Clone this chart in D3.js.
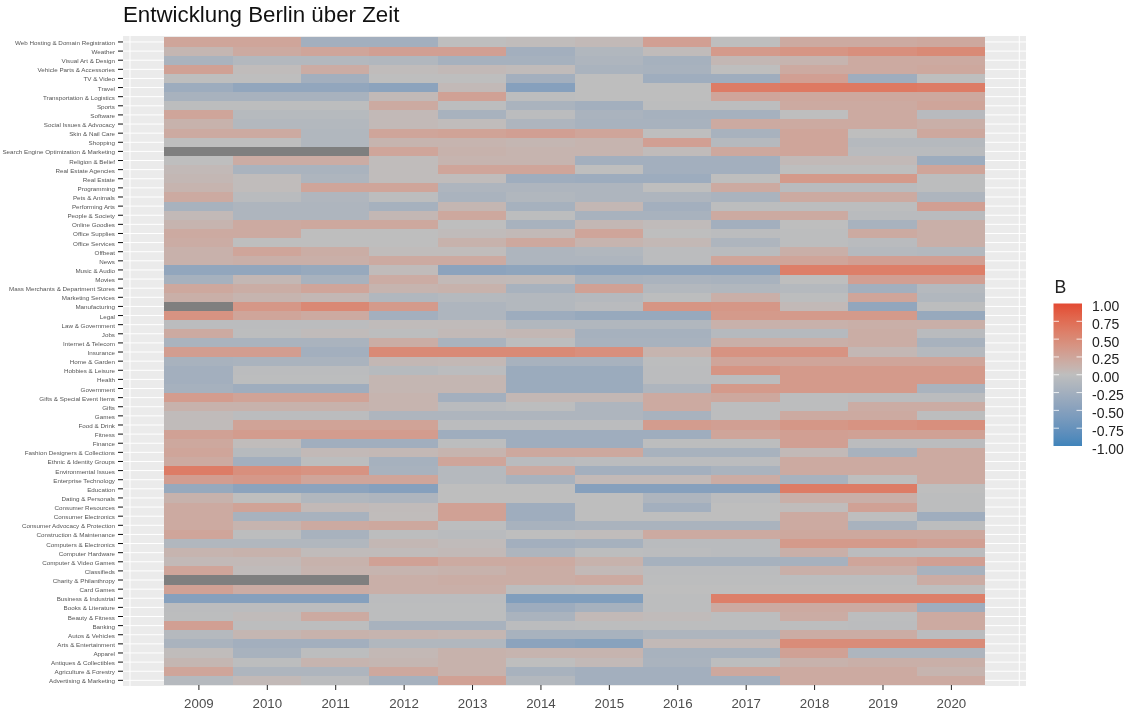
<!DOCTYPE html>
<html><head><meta charset="utf-8">
<script src="https://cdn.jsdelivr.net/npm/d3@7"></script>
<style>html,body{margin:0;padding:0;background:#fff}svg{display:block;font-family:"Liberation Sans",Arial,sans-serif;filter:blur(0.4px)}</style>
</head><body><svg id="c" width="1131" height="714"></svg>
<script>
const years=[2009,2010,2011,2012,2013,2014,2015,2016,2017,2018,2019,2020];
const categories=["Web Hosting & Domain Registration","Weather","Visual Art & Design","Vehicle Parts & Accessories","TV & Video","Travel","Transportation & Logistics","Sports","Software","Social Issues & Advocacy","Skin & Nail Care","Shopping","Search Engine Optimization & Marketing","Religion & Belief","Real Estate Agencies","Real Estate","Programming","Pets & Animals","Performing Arts","People & Society","Online Goodies","Office Supplies","Office Services","Offbeat","News","Music & Audio","Movies","Mass Merchants & Department Stores","Marketing Services","Manufacturing","Legal","Law & Government","Jobs","Internet & Telecom","Insurance","Home & Garden","Hobbies & Leisure","Health","Government","Gifts & Special Event Items","Gifts","Games","Food & Drink","Fitness","Finance","Fashion Designers & Collections","Ethnic & Identity Groups","Environmental Issues","Enterprise Technology","Education","Dating & Personals","Consumer Resources","Consumer Electronics","Consumer Advocacy & Protection","Construction & Maintenance","Computers & Electronics","Computer Hardware","Computer & Video Games","Classifieds","Charity & Philanthropy","Card Games","Business & Industrial","Books & Literature","Beauty & Fitness","Banking","Autos & Vehicles","Arts & Entertainment","Apparel","Antiques & Collectibles","Agriculture & Forestry","Advertising & Marketing"];
const values=[
[.25,.25,-.25,-.25,0,.02,.05,.3,0,.2,.2,.22],
[.08,.2,.25,.3,.3,-.25,-.12,.03,.35,.4,.45,.5],
[-.18,-.1,-.1,-.12,-.22,-.22,-.15,-.22,.07,.1,.2,.2],
[.28,.02,.18,.02,.05,.03,-.18,-.2,0,.2,.2,.22],
[0,0,-.25,0,0,-.25,0,-.28,-.28,.3,-.28,0],
[-.3,-.4,-.4,-.45,.05,-.5,0,0,.62,.65,.65,.62],
[-.2,-.2,-.2,.05,.28,-.02,0,0,.25,.22,.22,.22],
[-.02,-.02,-.02,.2,-.02,-.18,-.25,-.02,-.02,.2,.2,.25],
[.25,-.07,-.07,.05,-.2,-.03,-.18,-.22,-.22,0,.2,-.06],
[.12,-.1,-.1,.05,.02,-.15,-.2,-.2,.2,.2,.2,.15],
[.2,.2,-.12,.25,.27,.3,.25,0,-.2,.25,0,.22],
[0,0,-.12,.1,.1,.08,.1,.3,-.08,.25,-.08,-.08],
[null,null,null,.25,.12,.1,.1,.03,.22,.25,-.05,-.05],
[0,.18,.18,.02,.1,.1,-.25,-.25,-.25,.05,.05,-.3],
[.05,-.18,-.18,.02,.25,.25,0,-.25,-.25,0,0,.25],
[.07,.02,-.15,.02,.02,-.28,-.3,-.3,0,.35,.35,-.02],
[.1,.02,.25,.25,-.15,-.15,-.15,0,.2,-.05,-.05,-.02],
[.2,-.05,-.13,-.02,-.18,-.12,-.15,-.15,-.18,.2,.2,-.15],
[-.2,-.15,-.15,-.22,.08,-.22,.07,-.25,-.02,-.02,-.02,.3],
[.05,-.15,-.15,.07,.22,-.02,-.2,-.2,.2,.2,-.05,-.05],
[.1,.2,.22,.22,0,-.2,.07,.03,-.25,0,-.2,.15],
[.2,.2,0,0,.03,.05,.25,0,-.03,-.02,.2,.15],
[.18,0,0,0,.12,.22,.1,.06,-.15,-.02,-.05,.15],
[.13,.25,.17,.02,.02,-.15,-.12,-.03,-.05,.15,-.08,-.1],
[.13,.15,.15,.2,.2,-.15,-.15,-.03,.25,.25,.3,.3],
[-.4,-.4,-.35,.03,-.45,-.42,-.45,-.45,-.45,.6,.6,.6],
[-.22,.07,-.2,.18,.05,.04,-.2,-.18,-.2,0,.3,.3],
[.22,.17,.25,.1,.12,-.2,.28,-.1,-.12,-.08,-.25,-.08],
[.15,.1,.07,-.12,-.08,-.1,-.08,-.02,.15,-.02,.25,-.12],
[null,.38,.52,.35,-.15,-.1,-.05,.4,.38,.05,-.4,-.02],
[.42,.25,.2,-.25,-.15,-.3,-.35,-.35,.35,.35,.35,-.35],
[-.03,-.03,-.03,.03,.03,-.12,-.12,-.12,.13,.13,.15,.15],
[.2,-.02,.03,-.02,.05,.07,-.22,-.22,-.08,-.08,.17,-.05],
[-.18,-.18,-.18,.17,-.18,-.02,-.2,-.2,.15,.15,.17,-.2],
[.32,.32,-.25,.5,.5,.5,.45,.1,.42,.42,.07,-.08],
[-.2,-.18,-.18,.07,.06,-.2,-.2,-.02,.25,.25,.25,.25],
[-.25,-.03,-.03,-.07,-.03,-.32,-.32,-.03,.4,.35,.35,.35],
[-.25,-.02,-.02,.08,.08,-.32,-.32,-.03,-.03,.35,.35,.35],
[-.22,-.28,-.28,.08,.08,-.32,-.32,-.15,.35,.35,.35,-.18],
[.33,.27,.27,.1,-.25,.07,.07,.2,.22,-.02,-.03,-.03],
[.12,.12,.12,.1,-.05,-.02,-.15,.2,-.02,-.02,.18,.18],
[.03,-.03,-.03,-.15,-.15,-.15,-.15,-.2,-.02,.2,.2,-.02],
[.03,.27,.27,.27,-.03,-.03,-.03,.33,.3,.38,.42,.45],
[.28,.33,.33,.33,-.28,-.28,-.28,-.28,.25,.3,.28,.28],
[.22,.02,-.27,-.27,-.02,-.28,-.28,-.02,-.02,.3,-.03,-.03],
[.25,-.07,.05,.06,.1,.22,.22,-.2,-.2,.05,-.2,.2],
[.2,-.25,-.02,-.22,.25,-.05,-.03,-.03,-.03,.2,.2,.2],
[.62,.45,.42,-.2,-.08,.2,-.25,-.25,-.18,.2,.2,.2],
[.32,.37,.25,.25,-.08,-.2,.05,.05,.18,-.2,0,.2],
[-.35,-.45,-.45,-.5,0,0,-.5,-.5,-.5,.62,.62,0],
[.12,0,-.12,-.15,0,0,0,-.15,-.03,.15,.15,-.02],
[.2,.27,.05,.03,.28,-.28,0,-.25,0,.02,.28,-.02],
[.2,-.2,-.2,.02,.28,-.28,0,0,0,.2,0,-.28],
[.2,.1,.2,.22,-.02,-.2,-.18,-.18,-.18,.2,-.2,-.02],
[.25,-.02,-.2,-.02,-.05,0,.02,.2,.2,.22,.22,.22],
[-.12,-.12,-.12,.07,.03,-.25,-.22,-.05,-.05,.35,.35,.3],
[.1,.12,.03,.03,.05,-.15,-.02,-.03,-.05,.15,-.03,-.03],
[.05,.05,.12,.28,.2,.2,.12,-.22,-.22,-.22,.25,.3],
[.25,.03,.1,.1,.12,.17,.05,-.03,-.03,.15,.15,-.2],
[null,null,null,.15,.17,.17,.2,-.02,-.02,-.02,-.02,.18],
[.28,.18,.18,.15,.15,-.02,0,0,0,0,0,0],
[-.5,-.5,-.5,-.03,-.03,-.55,-.55,-.02,.6,.6,.6,.6],
[-.03,-.03,-.03,-.02,-.02,-.3,-.22,-.02,.2,.2,.2,-.28],
[-.02,.03,.2,-.02,-.02,-.18,.05,.03,-.02,.18,-.02,.2],
[.3,-.02,-.02,-.2,-.2,-.03,-.02,-.02,-.02,-.02,-.03,.2],
[-.08,.08,.12,.1,.08,-.2,-.2,-.15,-.15,.18,.18,-.03],
[-.18,-.25,-.25,-.12,-.12,-.45,-.48,.05,.05,.48,.48,.48],
[.02,-.2,-.02,.06,.12,.1,.1,-.2,-.2,.28,-.15,-.15],
[.08,-.02,.1,.08,.12,0,.05,-.18,-.02,.12,.15,.15],
[.25,-.15,-.15,.22,.12,-.2,-.25,-.25,.22,.2,.2,.1],
[-.08,.05,-.03,-.22,.28,-.1,-.25,-.25,-.25,.2,.2,.2]
];
const gridYears=[2008,2021];
const legendTicks=[-1,-.75,-.5,-.25,0,.25,.5,.75,1];
const title="Entwicklung Berlin über Zeit", legendTitle="B";
const lowC="#3f84bb", midC="#bebebe", highC="#e34a33", naC="#7f7f7f";

const P={l:123,r:1026,t:36,b:686};
const svg=d3.select("#c");
const x=d3.scaleLinear().domain([2009,2020]).range([198.4,950.9]);
const y=d3.scaleBand().domain(categories).range([37.4,684.9]);
const col=d3.scaleLinear().domain([-1,0,1]).range([lowC,midC,highC]).interpolate(d3.interpolateLab);
const cw=x(2010)-x(2009);
const fmt=d3.formatLocale({decimal:".",thousands:",",grouping:[3],currency:["",""],minus:"-"}).format(".2f");

svg.append("rect").attr("x",P.l).attr("y",P.t).attr("width",P.r-P.l).attr("height",P.b-P.t).attr("fill","#ebebeb");
svg.append("g").selectAll("line").data(categories).join("line")
 .attr("x1",P.l).attr("x2",P.r).attr("y1",d=>y(d)+y.bandwidth()/2).attr("y2",d=>y(d)+y.bandwidth()/2).attr("stroke","#fff").attr("stroke-width",1);
svg.append("g").selectAll("line").data(gridYears).join("line")
 .attr("x1",d=>x(d)).attr("x2",d=>x(d)).attr("y1",P.t).attr("y2",P.b).attr("stroke","#fff").attr("stroke-width",1);

const cells=categories.flatMap((c,i)=>years.map((yr,j)=>({c,yr,v:values[i][j]})));
svg.append("g").attr("shape-rendering","crispEdges").selectAll("rect").data(cells).join("rect")
 .attr("x",d=>x(d.yr)-cw/2).attr("width",cw+.3).attr("y",d=>y(d.c)).attr("height",y.bandwidth()+.3)
 .attr("fill",d=>d.v===null?naC:col(d.v));

const ax=svg.append("g").attr("transform",`translate(0,${P.b-1})`)
 .call(d3.axisBottom(x).tickValues(years).tickFormat(d3.format("d")).tickSize(5).tickPadding(9));
ax.select(".domain").remove();
ax.selectAll("line").attr("stroke","#222");
ax.selectAll("text").attr("font-size",13.3).attr("fill","#4d4d4d").attr("font-family","inherit");
const ay=svg.append("g").attr("transform",`translate(${P.l},0)`)
 .call(d3.axisLeft(y).tickSize(5).tickPadding(3));
ay.select(".domain").remove();
ay.selectAll("line").attr("stroke","#111");
ay.selectAll("text").attr("font-size",6.25).attr("fill","#555").attr("font-family","inherit").attr("y",1);

svg.append("text").attr("x",123).attr("y",22).attr("font-size",22.3).attr("fill","#111").text(title);

// legend
const ly=d3.scaleLinear().domain([-1,1]).range([446,303.5]);
const grad=svg.append("defs").append("linearGradient").attr("id","lg").attr("x1",0).attr("x2",0).attr("y1",1).attr("y2",0);
d3.range(0,1.0001,.05).forEach(t=>grad.append("stop").attr("offset",t).attr("stop-color",col(t*2-1)));
svg.append("text").attr("x",1054.5).attr("y",292.7).attr("font-size",17.7).attr("fill","#222").text(legendTitle);
svg.append("rect").attr("x",1053.5).attr("y",303.5).attr("width",28.5).attr("height",142.5).attr("fill","url(#lg)");
const lg=svg.append("g").attr("transform","translate(1082,0)")
 .call(d3.axisRight(ly).tickValues(legendTicks).tickFormat(fmt).tickSize(0).tickPadding(10));
lg.select(".domain").remove();
lg.selectAll("text").attr("font-size",14).attr("fill","#222").attr("font-family","inherit").attr("dy","0.5em");
svg.append("g").selectAll("line").data(legendTicks.slice(1,-1)).join("g").each(function(d){
 const g=d3.select(this);
 g.append("line").attr("x1",1053.5).attr("x2",1059).attr("y1",ly(d)).attr("y2",ly(d)).attr("stroke","#fff").attr("opacity",.8);
 g.append("line").attr("x1",1076.5).attr("x2",1082).attr("y1",ly(d)).attr("y2",ly(d)).attr("stroke","#fff").attr("opacity",.8);
});
</script></body></html>
